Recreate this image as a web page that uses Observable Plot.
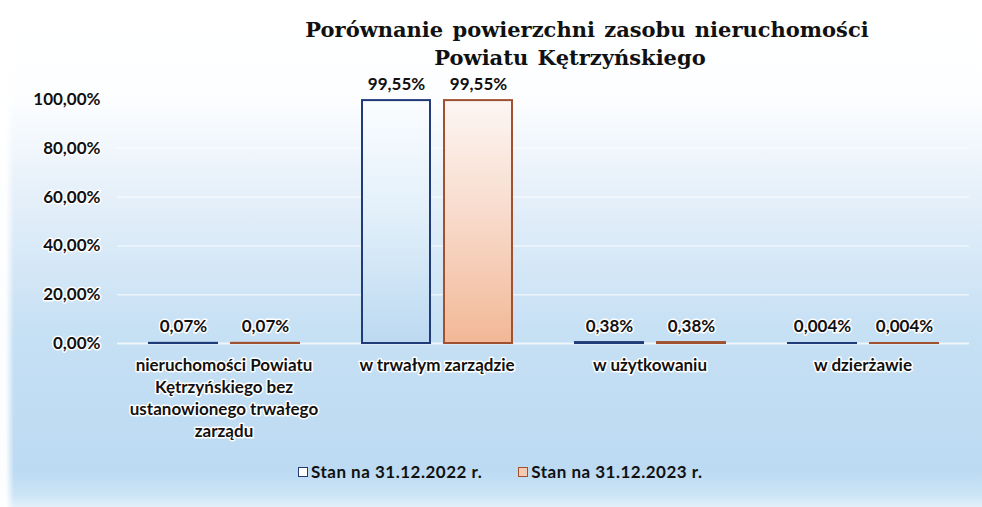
<!DOCTYPE html>
<html><head><meta charset="utf-8">
<script src="https://cdn.jsdelivr.net/npm/d3@7"></script>
<script src="https://cdn.jsdelivr.net/npm/@observablehq/plot@0.6"></script>
<style>
html,body{margin:0;padding:0}
body{width:982px;height:507px;overflow:hidden;position:relative;
background:
 linear-gradient(to right, rgba(255,255,255,0.95) 0px, rgba(255,255,255,0.95) 6px, rgba(255,255,255,0) 14px),
 linear-gradient(to bottom,#ffffff 0px,#fdfeff 95px,#e4eff9 200px,#c6e0f4 330px,#bcdaf2 470px,#cce5f6 495px,#e2f0fa 507px);
font-family:Lato,"Open Sans",sans-serif;color:#111}
.tl{position:absolute;transform:translateX(-50%);white-space:nowrap;
 font-family:"DejaVu Serif",serif;font-weight:bold;font-size:21px;line-height:28px;color:#111;word-spacing:2px}
#t1{top:16px;left:587px}
#t2{top:44px;left:570px}
#chart{position:absolute;top:70px;left:0}
#legend{position:absolute;top:461px;left:298px;display:flex;align-items:center;font-weight:bold;font-size:17px;line-height:22px;letter-spacing:0.5px}
.item{display:flex;align-items:center;margin-right:36px}
.sw{width:10px;height:10px;margin-right:3px;box-sizing:border-box}
#chart svg g[aria-label="y-axis tick label"] text{paint-order:stroke;stroke:#ffffff;stroke-width:3px;stroke-linejoin:round}
</style></head>
<body>
<div class="tl" id="t1">Porównanie powierzchni zasobu nieruchomości</div>
<div class="tl" id="t2">Powiatu Kętrzyńskiego</div>
<div id="chart"></div>
<div id="legend"></div>
<script>
const categories = [
  "nieruchomości Powiatu\nKętrzyńskiego bez\nustanowionego trwałego\nzarządu",
  "w trwałym zarządzie",
  "w użytkowaniu",
  "w dzierżawie"
];
const seriesNames = ["Stan na 31.12.2022 r.", "Stan na 31.12.2023 r."];
const values2022 = [0.07, 99.55, 0.38, 0.004];
const values2023 = [0.07, 99.55, 0.38, 0.004];
const yTicks = [0, 20, 40, 60, 80, 100];

const seriesStyle = [
  {grad: "gBlue", stroke: "#1f3b78", legendFill: "#ffffff"},
  {grad: "gOrange", stroke: "#a0512f", legendFill: "#f6c9b0"}
];

const fmtVal = v => String(v).replace(".", ",") + "%";
const fmtTick = v => v.toFixed(2).replace(".", ",") + "%";

const rows = [];
categories.forEach((c, i) => {
  rows.push({cat: c, series: seriesNames[0], value: values2022[i]});
  rows.push({cat: c, series: seriesNames[1], value: values2023[i]});
});

const svg = Plot.plot({
  width: 982,
  height: 385,
  marginLeft: 116,
  marginRight: 13,
  marginTop: 29,
  marginBottom: 112,
  style: {background: "transparent", fontFamily: "Lato, 'Open Sans', sans-serif", fontWeight: "bold", fontSize: "17px", color: "#111", overflow: "visible"},
  fx: {domain: categories, paddingInner: 0, paddingOuter: 0, axis: null},
  x: {domain: seriesNames, paddingInner: 0.171, paddingOuter: 0.384, axis: null},
  y: {domain: [0, 100], ticks: yTicks, tickFormat: fmtTick, tickSize: 0, tickPadding: 17, label: null},
  marks: [
    Plot.ruleY(yTicks.filter(d => d > 0), {stroke: "#ffffff", strokeOpacity: 0.6, strokeWidth: 1.5}),
    Plot.ruleY([0], {stroke: "#eef6fc", strokeWidth: 2}),
    ...seriesNames.map((s, k) => Plot.barY(rows.filter(r => r.series === s), {
      fx: "cat", x: "series", y: "value",
      fill: `url(#${seriesStyle[k].grad})`, stroke: seriesStyle[k].stroke, strokeWidth: 2
    })),
    Plot.text(rows, {
      fx: "cat", x: "series", y: "value", text: d => fmtVal(d.value),
      lineAnchor: "bottom", dy: -11, fill: "#111", stroke: "#ffffff", strokeWidth: 3,
      fontSize: 17, fontWeight: "bold", letterSpacing: "0.5px"
    }),
    Plot.text(categories, {
      fx: d => d, text: d => d, frameAnchor: "bottom", lineAnchor: "top", dy: 12,
      lineHeight: 1.3, fill: "#111", stroke: "#ffffff", strokeWidth: 3,
      fontSize: 17, fontWeight: "bold", letterSpacing: "0.5px"
    })
  ]
});

const defs = d3.select(svg).insert("defs", ":first-child");
const gb = defs.append("linearGradient").attr("id", "gBlue").attr("x1", 0).attr("y1", 0).attr("x2", 0).attr("y2", 1);
gb.append("stop").attr("offset", "0%").attr("stop-color", "#fbfdff");
gb.append("stop").attr("offset", "45%").attr("stop-color", "#e3f0fa");
gb.append("stop").attr("offset", "100%").attr("stop-color", "#bcd9f1");
const go = defs.append("linearGradient").attr("id", "gOrange").attr("x1", 0).attr("y1", 0).attr("x2", 0).attr("y2", 1);
go.append("stop").attr("offset", "0%").attr("stop-color", "#fcf6f3");
go.append("stop").attr("offset", "45%").attr("stop-color", "#f8dccd");
go.append("stop").attr("offset", "100%").attr("stop-color", "#f2b897");

document.getElementById("chart").appendChild(svg);

const legend = d3.select("#legend");
seriesNames.forEach((s, k) => {
  const it = legend.append("div").attr("class", "item");
  it.append("div").attr("class", "sw")
    .style("border", `1.5px solid ${seriesStyle[k].stroke}`)
    .style("background", seriesStyle[k].legendFill);
  it.append("span").text(s);
});
</script>
</body></html>
